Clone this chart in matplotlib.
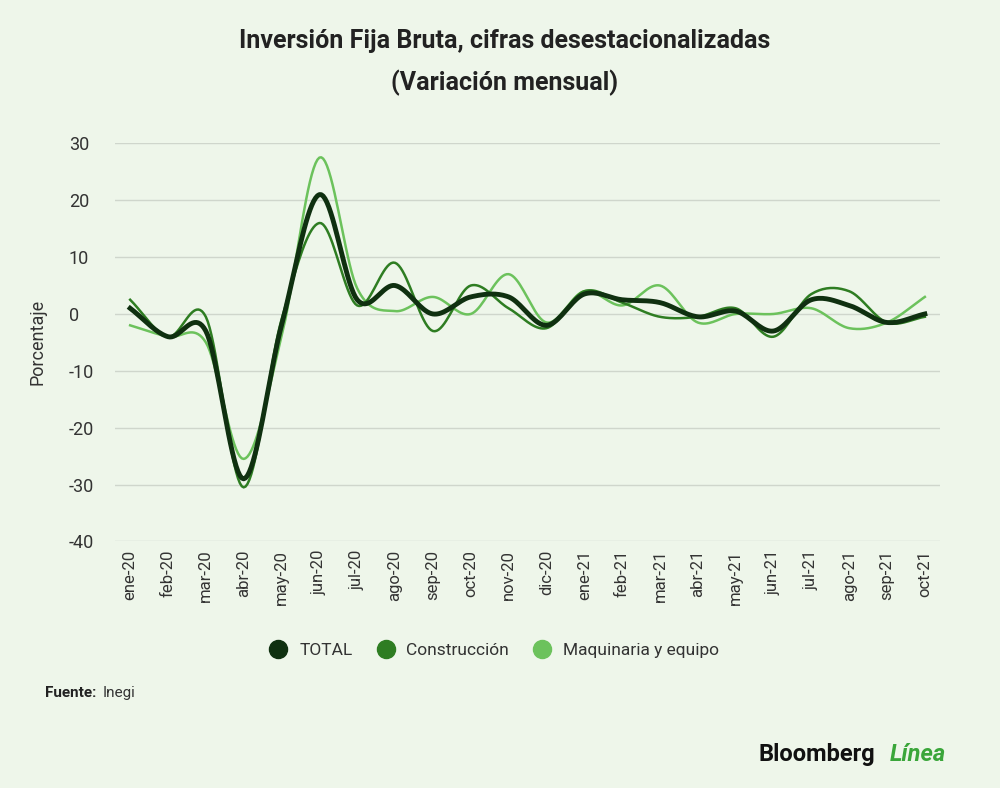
import numpy as np
import matplotlib
matplotlib.use("Agg")
import matplotlib.pyplot as plt
from matplotlib.lines import Line2D

plt.rcParams['font.family'] = ['Roboto', 'DejaVu Sans']
plt.rcParams['axes.unicode_minus'] = False

months = ["ene-20","feb-20","mar-20","abr-20","may-20","jun-20","jul-20","ago-20","sep-20","oct-20","nov-20","dic-20",
          "ene-21","feb-21","mar-21","abr-21","may-21","jun-21","jul-21","ago-21","sep-21","oct-21"]
total = [1, -4, -3, -29, -2, 21, 2.5, 5, 0, 3, 3, -2, 3.5, 2.5, 2, -0.5, 0.5, -3, 2.5, 1.5, -1.5, 0]
construccion = [2.5, -4, -0.5, -30.5, -1, 16, 1.5, 9, -3, 5, 1, -2.5, 4, 2, -0.5, -0.5, 1, -4, 3.5, 4, -1.5, -0.5]
maquinaria = [-2, -4, -5, -25.5, -4, 27.5, 4.5, 0.5, 3, 0, 7, -1.5, 4, 1.5, 5, -1.5, 0, 0, 1, -2.5, -1.5, 3]

def smooth(y, n=20):
    y = np.asarray(y, float)
    p = np.concatenate([[2*y[0]-y[1]], y, [2*y[-1]-y[-2]]])
    xs, ys = [], []
    for i in range(len(y)-1):
        p0, p1, p2, p3 = p[i], p[i+1], p[i+2], p[i+3]
        t = np.linspace(0, 1, n, endpoint=False)
        v = 0.5*((2*p1) + (-p0+p2)*t + (2*p0-5*p1+4*p2-p3)*t**2 + (-p0+3*p1-3*p2+p3)*t**3)
        xs.append(i+t); ys.append(v)
    xs.append([len(y)-1]); ys.append([y[-1]])
    return np.concatenate(xs), np.concatenate(ys)

bg = "#eef6ea"
fig = plt.figure(figsize=(10, 7.88), dpi=100, facecolor=bg)
ax = fig.add_axes([0.115, 0.313, 0.825, 0.505], facecolor=bg)

c_tot, c_con, c_maq = "#0f3010", "#2e7d22", "#6cc25c"
x, y = smooth(maquinaria); ax.plot(x, y, color=c_maq, lw=1.8)
x, y = smooth(construccion); ax.plot(x, y, color=c_con, lw=1.8)
x, y = smooth(total); ax.plot(x, y, color=c_tot, lw=3.5)

ax.set_ylim(-40, 30)
ax.set_xlim(-0.4, len(months)-0.6)
ax.set_yticks(range(-40, 31, 10))
ax.set_xticks(range(len(months)))
ax.set_xticklabels(months, rotation=90, fontsize=12, color="#333333")
ax.tick_params(axis='y', labelsize=13, colors="#333333", length=0)
ax.tick_params(axis='x', length=0, pad=6)
for lab in ax.get_yticklabels():
    lab.set_horizontalalignment('left')
    lab.set_x(-0.05)
ax.grid(axis='y', color="#cfd6cc", lw=1)
for s in ax.spines.values():
    s.set_visible(False)
ax.set_ylabel("Porcentaje", fontsize=13, color="#333333", labelpad=16)

fig.text(0.505, 0.948, "Inversión Fija Bruta, cifras desestacionalizadas", ha='center', va='center',
         fontsize=18, fontweight='bold', color="#222222")
fig.text(0.505, 0.895, "(Variación mensual)", ha='center', va='center',
         fontsize=18, fontweight='bold', color="#222222")

handles = [Line2D([], [], marker='o', ls='', color=c, markersize=13) for c in (c_tot, c_con, c_maq)]
fig.legend(handles, ["TOTAL", "Construcción", "Maquinaria y equipo"], loc='center',
           bbox_to_anchor=(0.49, 0.175), ncol=3, frameon=False, fontsize=12.5,
           handletextpad=0.2, columnspacing=0.9, labelcolor="#333333")

fig.text(0.045, 0.121, "Fuente:", fontsize=11, fontweight='bold', color="#222222", va='center')
fig.text(0.103, 0.121, "Inegi", fontsize=11, color="#333333", va='center')
fig.text(0.758, 0.042, "Bloomberg", fontsize=17, fontweight='bold', color="#111111", va='center')
fig.text(0.89, 0.042, "Línea", fontsize=17, fontweight='bold', fontstyle='italic', color="#3aa63a", va='center')

fig.savefig("out.png", dpi=100, facecolor=bg)
